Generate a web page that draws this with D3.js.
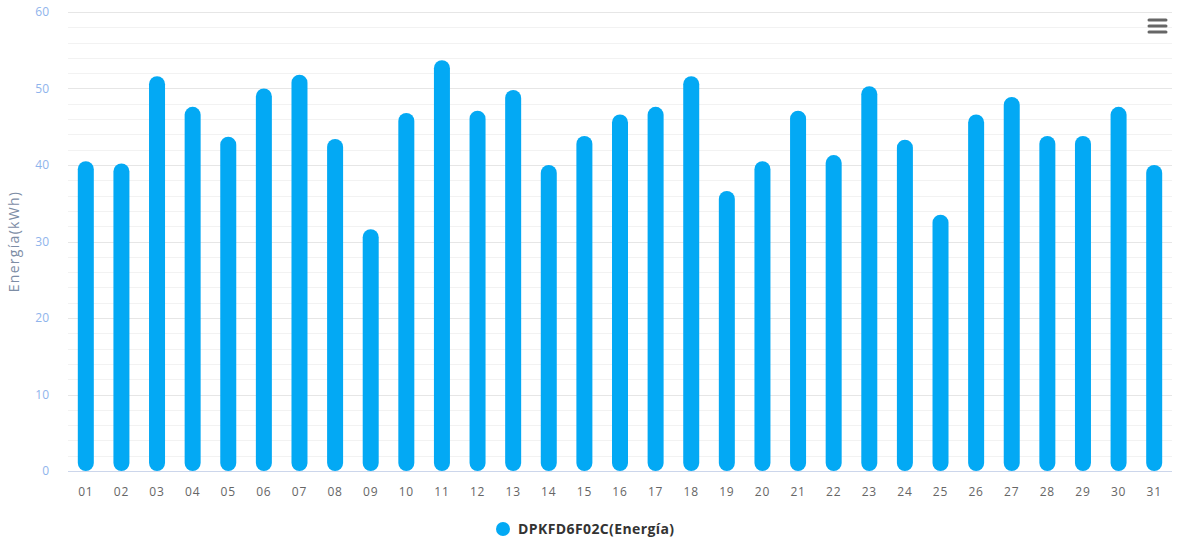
<!DOCTYPE html>
<html>
<head>
<meta charset="utf-8">
<script src="https://cdn.jsdelivr.net/npm/d3@7"></script>
<style>
  html, body { margin: 0; padding: 0; background: #fff; }
  svg { display: block; font-family: "Open Sans", "DejaVu Sans", sans-serif; }
</style>
</head>
<body>
<svg id="chart" width="1177" height="542"></svg>
<script>
// Daily energy for one inverter over a month
const days = ["01","02","03","04","05","06","07","08","09","10","11","12","13","14","15","16",
              "17","18","19","20","21","22","23","24","25","26","27","28","29","30","31"];
const energy = [40.5, 40.2, 51.6, 47.6, 43.7, 50.0, 51.8, 43.4, 31.6, 46.8, 53.7, 47.1, 49.8, 40.0, 43.8, 46.6,
                47.6, 51.6, 36.6, 40.5, 47.1, 41.3, 50.3, 43.3, 33.5, 46.6, 48.9, 43.8, 43.8, 47.6, 40.0];
const yTicks = [0, 10, 20, 30, 40, 50, 60];
const seriesName = "DPKFD6F02C(Energía)";
const yTitle = "Energía(kWh)";

const svg = d3.select("#chart");
const margin = { left: 68, right: 5, top: 12, bottom: 71 };
const W = 1177, H = 542;
const plotW = W - margin.left - margin.right;
const plotH = H - margin.top - margin.bottom;

const x = d3.scaleBand().domain(days).range([margin.left, margin.left + plotW]).padding(0);
const y = d3.scaleLinear().domain([0, 60]).range([margin.top + plotH, margin.top]);

// minor grid every 2 units
const minor = d3.range(0, 61, 2).filter(v => v % 10 !== 0);
svg.append("g").selectAll("line").data(minor).join("line")
  .attr("x1", margin.left).attr("x2", margin.left + plotW)
  .attr("y1", d => Math.round(y(d)) + 0.5).attr("y2", d => Math.round(y(d)) + 0.5)
  .attr("stroke", "#f2f2f2").attr("stroke-width", 1);

// major grid
svg.append("g").selectAll("line").data(yTicks.filter(v => v > 0)).join("line")
  .attr("x1", margin.left).attr("x2", margin.left + plotW)
  .attr("y1", d => Math.round(y(d)) + 0.5).attr("y2", d => Math.round(y(d)) + 0.5)
  .attr("stroke", "#e6e6e6").attr("stroke-width", 1);

// y tick labels
svg.append("g").selectAll("text").data(yTicks).join("text")
  .attr("x", 49).attr("y", d => y(d) + 4)
  .attr("text-anchor", "end")
  .attr("font-size", 12).attr("fill", "#8fb4ec")
  .text(d => d);

// y axis title
svg.append("text")
  .attr("transform", `translate(19, ${margin.top + plotH / 2}) rotate(-90)`)
  .attr("text-anchor", "middle")
  .attr("font-size", 14).attr("letter-spacing", 1.3).attr("fill", "#7d8da5")
  .text(yTitle);

// bars with fully rounded ends
const barW = 16;
svg.append("g").selectAll("rect").data(energy).join("rect")
  .attr("x", (d, i) => x(days[i]) + x.bandwidth() / 2 - barW / 2)
  .attr("y", d => y(d))
  .attr("width", barW)
  .attr("height", d => y(0) - y(d))
  .attr("rx", barW / 2).attr("ry", barW / 2)
  .attr("fill", "#03a9f4");

// x axis line
svg.append("line")
  .attr("x1", margin.left).attr("x2", margin.left + plotW)
  .attr("y1", Math.round(y(0)) + 0.5).attr("y2", Math.round(y(0)) + 0.5)
  .attr("stroke", "#ccd6eb").attr("stroke-width", 1);

// x labels
svg.append("g").selectAll("text").data(days).join("text")
  .attr("x", d => x(d) + x.bandwidth() / 2)
  .attr("y", y(0) + 25)
  .attr("text-anchor", "middle")
  .attr("font-size", 12).attr("letter-spacing", 0.8).attr("fill", "#666")
  .text(d => d);

// legend
const legend = svg.append("g");
legend.append("circle").attr("cx", 503).attr("cy", 529).attr("r", 7).attr("fill", "#03a9f4");
legend.append("text").attr("x", 518).attr("y", 534)
  .attr("font-size", 14).attr("font-weight", "bold").attr("letter-spacing", 0.4).attr("fill", "#333")
  .text(seriesName);

// context menu icon
const menu = svg.append("g").attr("stroke", "#666").attr("stroke-width", 3).attr("stroke-linecap", "round");
[20, 26, 32].forEach(yy => menu.append("line").attr("x1", 1149).attr("x2", 1166).attr("y1", yy).attr("y2", yy));
</script>
</body>
</html>
